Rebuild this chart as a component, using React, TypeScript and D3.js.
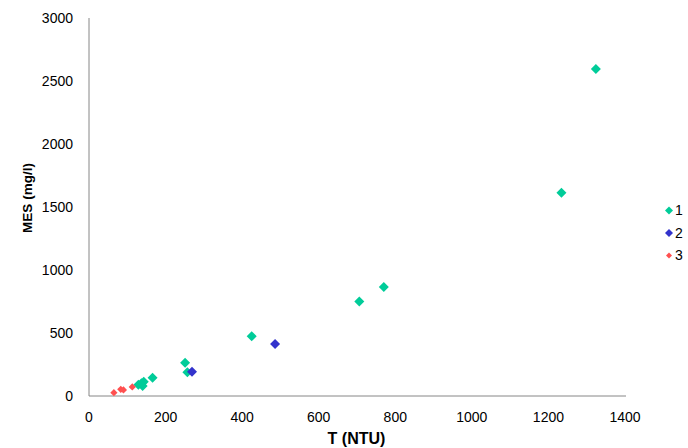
import React from "react";
import * as d3 from "d3";

const s1x = [1324, 1234, 770, 706, 425, 251, 257, 166, 143, 137, 129, 140];
const s1y = [2595, 1613, 865, 750, 474, 264, 188, 145, 113, 101, 90, 80];
const s2x = [486, 269];
const s2y = [413, 193];
const s3x = [65, 83, 90, 113];
const s3y = [26, 53, 48, 72];
const xTicks = [0, 200, 400, 600, 800, 1000, 1200, 1400];
const yTicks = [0, 500, 1000, 1500, 2000, 2500, 3000];
const seriesNames = ["1", "2", "3"];
const colors = ["#00CC99", "#3333CC", "#FF5050"];
const sizes = [5, 5, 3.6];

export default function App() {
  const W = 688, H = 448;
  const x = d3.scaleLinear().domain([0, 1400]).range([89, 625]);
  const y = d3.scaleLinear().domain([0, 3000]).range([396, 18]);
  const series = [
    s1x.map((v, i) => [v, s1y[i]]),
    s2x.map((v, i) => [v, s2y[i]]),
    s3x.map((v, i) => [v, s3y[i]]),
  ];
  const diamond = (cx: number, cy: number, r: number) =>
    `M${cx},${cy - r}L${cx + r},${cy}L${cx},${cy + r}L${cx - r},${cy}Z`;
  const font = "'Liberation Sans', Arial, sans-serif";
  return (
    <svg width={W} height={H} style={{ position: "absolute", left: 0, top: 0, fontFamily: font }}>
      <rect width={W} height={H} fill="#fff" />
      <line x1={89} x2={89} y1={18} y2={396} stroke="#868686" strokeWidth={1} />
      <line x1={89} x2={626} y1={396} y2={396} stroke="#868686" strokeWidth={1} />
      {yTicks.map((t) => (
        <text key={t} x={73} y={y(t)} dy="0.35em" textAnchor="end" fontSize={14} fill="#000">
          {t}
        </text>
      ))}
      {xTicks.map((t) => (
        <text key={t} x={x(t)} y={417} dy="0.35em" textAnchor="middle" fontSize={14} fill="#000">
          {t}
        </text>
      ))}
      <text x={356.5} y={438.5} dy="0.35em" textAnchor="middle" fontSize={16} fontWeight="bold">
        T (NTU)
      </text>
      <text
        transform={`translate(27,198) rotate(-90)`}
        dy="0.35em"
        textAnchor="middle"
        fontSize={13.5}
        fontWeight="bold"
      >
        MES (mg/l)
      </text>
      {series.map((pts, si) =>
        pts.map(([a, b], i) => (
          <path key={`${si}-${i}`} d={diamond(x(a), y(b), sizes[si])} fill={colors[si]} />
        ))
      )}
      {seriesNames.map((n, i) => (
        <g key={n}>
          <path d={diamond(669, 210.5 + i * 22.5, i === 2 ? 3 : 4)} fill={colors[i]} />
          <text x={675} y={210.5 + i * 22.5} dy="0.35em" fontSize={14}>
            {n}
          </text>
        </g>
      ))}
    </svg>
  );
}
